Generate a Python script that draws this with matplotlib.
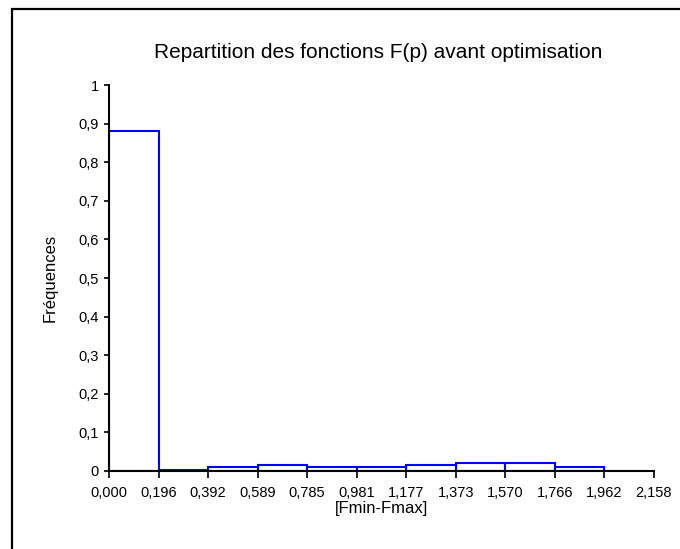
import matplotlib
matplotlib.use('Agg')
import matplotlib.pyplot as plt
from matplotlib.patches import Rectangle

# bin edges shown on the x axis
edge_labels = ['0,000', '0,196', '0,392', '0,589', '0,785', '0,981',
               '1,177', '1,373', '1,570', '1,766', '1,962', '2,158']
# frequency of each bin
freqs = [0.88, 0.003, 0.01, 0.015, 0.01, 0.01, 0.015, 0.02, 0.02, 0.01]
y_ticks = [0, 0.1, 0.2, 0.3, 0.4, 0.5, 0.6, 0.7, 0.8, 0.9, 1]
y_labels = ['0', '0,1', '0,2', '0,3', '0,4', '0,5', '0,6', '0,7', '0,8', '0,9', '1']

plt.rcParams['font.family'] = ['Liberation Sans', 'DejaVu Sans']

W, H = 680, 549
fig = plt.figure(figsize=(W / 100, H / 100), dpi=100)
ax = fig.add_axes([109 / W, 78 / H, (654 - 109) / W, (471 - 85) / H])

positions = list(range(len(freqs)))
ax.bar(positions, freqs, width=1, align='edge', facecolor='white',
       edgecolor='#0000ff', linewidth=1.5, zorder=3)

ax.set_xlim(0, len(edge_labels) - 1)
ax.set_ylim(0, 1)
ax.set_xticks(range(len(edge_labels)))
ax.set_xticklabels(edge_labels, fontsize=10.5)
ax.set_yticks(y_ticks)
ax.set_yticklabels(y_labels, fontsize=10.5)
ax.tick_params(axis='x', direction='out', length=5, width=1.2, pad=6)
ax.tick_params(axis='y', direction='out', length=3.5, width=1.2, pad=4)

for side in ['top', 'right']:
    ax.spines[side].set_visible(False)
for side in ['left', 'bottom']:
    ax.spines[side].set_linewidth(1.5)
    ax.spines[side].set_zorder(4)

fig.text(50 / W, 1 - 278 / H, 'Fréquences', rotation=90,
         ha='center', va='center', fontsize=12)
fig.text(381 / W, 1 - 509 / H, '[Fmin-Fmax]', ha='center', va='center', fontsize=12)
fig.text(378 / W, 1 - 52 / H, 'Repartition des fonctions F(p) avant optimisation',
         ha='center', va='center', fontsize=15)

# outer chart border
fig.patches.append(Rectangle((12 / W, -0.1), 1.2, 1 - 9 / H + 0.1,
                             transform=fig.transFigure, fill=False,
                             edgecolor='black', linewidth=1.6))

fig.savefig('out.png', dpi=100)
